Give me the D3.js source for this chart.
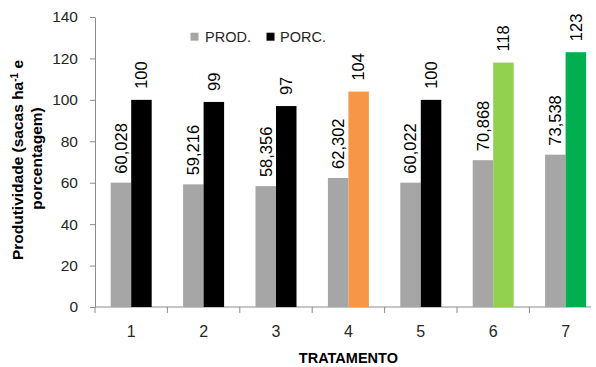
<!DOCTYPE html>
<html>
<head>
<meta charset="utf-8">
<script src="https://cdn.jsdelivr.net/npm/d3@7"></script>
<style>
  html, body { margin: 0; padding: 0; background: #fff; }
  svg { display: block; font-family: "Liberation Sans", Arial, sans-serif; }
</style>
</head>
<body>
<svg id="chart" width="596" height="367"></svg>
<script>
// Treatments and series
const categories = ["1", "2", "3", "4", "5", "6", "7"];
const prodValues = [60.028, 59.216, 58.356, 62.302, 60.022, 70.868, 73.538];
const porcValues = [100, 99, 97, 104, 100, 118, 123];
const prodLabels = ["60,028", "59,216", "58,356", "62,302", "60,022", "70,868", "73,538"];
const yTicks = [0, 20, 40, 60, 80, 100, 120, 140];
const seriesNames = ["PROD.", "PORC."];

// Fill colours
const prodColor = "#a6a6a6";
const porcColors = ["#000000", "#000000", "#000000", "#f79646", "#000000", "#92d050", "#00b050"];
const axisColor = "#8c8c8c";
const textColor = "#262626";

const svg = d3.select("#chart");
const plotLeft = 95, plotRight = 601.8, plotTop = 17, plotBottom = 307;
const axisEnd = 591;

const x = d3.scaleBand().domain(categories).range([plotLeft, plotRight]).padding(0);
const inner = d3.scaleBand().domain(["prod", "porc"]).range([0, x.bandwidth()])
  .paddingInner(0).paddingOuter(0.766);
const y = d3.scaleLinear().domain([0, 140]).range([plotBottom, plotTop]);

// Y axis
const yAxis = svg.append("g").attr("transform", `translate(${plotLeft},0)`)
  .call(d3.axisLeft(y).tickValues(yTicks).tickSize(5).tickPadding(12).tickSizeOuter(0));
yAxis.select(".domain").attr("stroke", axisColor);
yAxis.selectAll(".tick line").attr("stroke", axisColor);
yAxis.selectAll(".tick text").attr("font-size", 15.5).attr("fill", textColor)
  .attr("font-family", "Liberation Sans, Arial, sans-serif");

// X axis: line with boundary ticks between categories
const xg = svg.append("g");
xg.append("line").attr("x1", plotLeft).attr("x2", axisEnd).attr("y1", plotBottom).attr("y2", plotBottom)
  .attr("stroke", axisColor);
categories.forEach(c => {
  xg.append("line").attr("x1", x(c)).attr("x2", x(c)).attr("y1", plotBottom).attr("y2", plotBottom + 6)
    .attr("stroke", axisColor);
  xg.append("text").attr("x", x(c) + x.bandwidth() / 2).attr("y", 336.5)
    .attr("text-anchor", "middle").attr("font-size", 16).attr("fill", textColor).text(c);
});

// Bars
const groups = svg.append("g").selectAll("g").data(categories).join("g")
  .attr("transform", d => `translate(${x(d)},0)`);

groups.append("rect")
  .attr("x", inner("prod")).attr("width", inner.bandwidth())
  .attr("y", (d, i) => y(prodValues[i])).attr("height", (d, i) => y(0) - y(prodValues[i]))
  .attr("fill", prodColor);

groups.append("rect")
  .attr("x", inner("porc")).attr("width", inner.bandwidth())
  .attr("y", (d, i) => y(porcValues[i])).attr("height", (d, i) => y(0) - y(porcValues[i]))
  .attr("fill", (d, i) => porcColors[i]);

// Value labels, rotated above each bar
const labelFont = 16.5;
groups.append("text")
  .attr("transform", (d, i) => `translate(${inner("prod") + inner.bandwidth() / 2},${y(prodValues[i]) - 9}) rotate(-90)`)
  .attr("dy", "0.35em").attr("font-size", labelFont).attr("fill", "#000")
  .text((d, i) => prodLabels[i]);

groups.append("text")
  .attr("transform", (d, i) => `translate(${inner("porc") + inner.bandwidth() / 2},${y(porcValues[i]) - 11}) rotate(-90)`)
  .attr("dy", "0.35em").attr("font-size", labelFont).attr("fill", "#000")
  .text((d, i) => d3.format("d")(porcValues[i]));

// Legend
const legend = svg.append("g");
[[190.5, prodColor, 205], [266.5, "#000000", 280]].forEach(([sx, col, tx], i) => {
  legend.append("rect").attr("x", sx).attr("y", 32.7).attr("width", 8).attr("height", 8).attr("fill", col);
  legend.append("text").attr("x", tx).attr("y", 42.3).attr("font-size", 14.5).attr("fill", textColor)
    .text(seriesNames[i]);
});

// Axis titles
svg.append("text").attr("x", (plotLeft + plotRight) / 2).attr("y", 363.3)
  .attr("text-anchor", "middle").attr("font-size", 14.5).attr("font-weight", "bold")
  .attr("fill", "#000").text("TRATAMENTO");

const yTitle = svg.append("g").attr("font-weight", "bold").attr("font-size", 15.5).attr("fill", "#000");
const line1 = yTitle.append("text").attr("transform", "translate(23,160) rotate(-90)")
  .attr("text-anchor", "middle");
line1.append("tspan").text("Produtividade (sacas ha");
line1.append("tspan").attr("font-size", 10).attr("dy", "-0.5em").text("-1");
line1.append("tspan").attr("dy", "0.33em").text(" e");
yTitle.append("text").attr("transform", "translate(42,158.5) rotate(-90)")
  .attr("text-anchor", "middle").text("porcentagem)");
</script>
</body>
</html>
